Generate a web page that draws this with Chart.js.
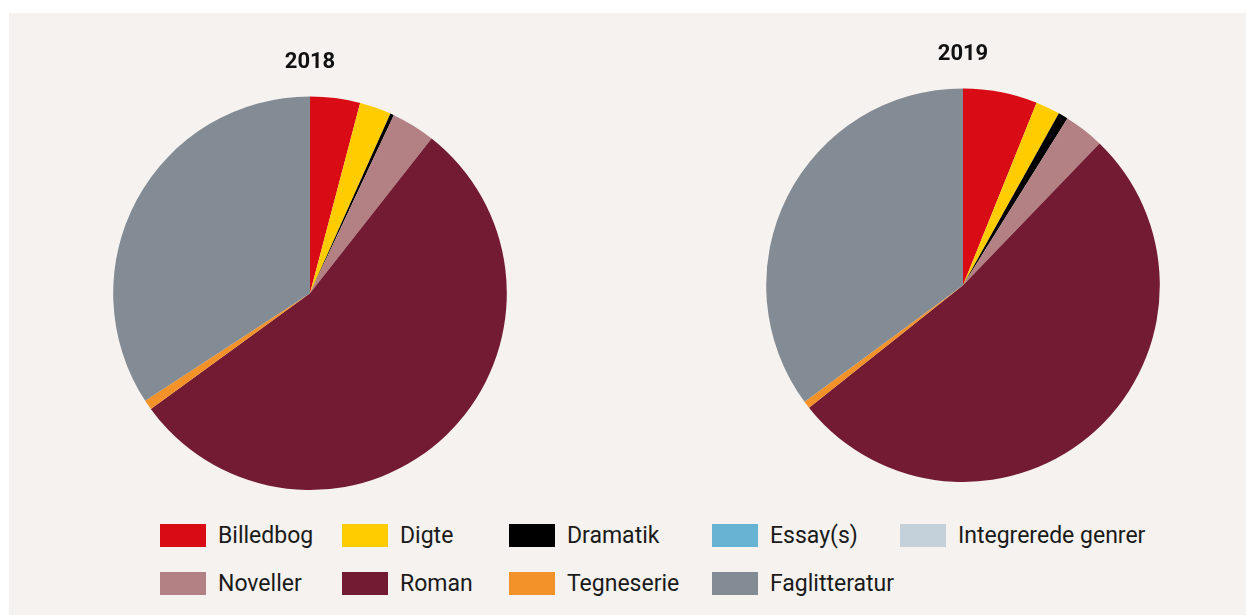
<!DOCTYPE html>
<html>
<head>
<meta charset="utf-8">
<script src="https://cdn.jsdelivr.net/npm/chart.js@4.4.1/dist/chart.umd.min.js"></script>
<style>
    html, body { margin: 0; padding: 0; background: #fff; width: 1246px; height: 615px; overflow: hidden; }
    #panel { position: absolute; left: 9px; top: 13px; width: 1237px; height: 602px; background: #f5f2ef; }
    canvas { position: absolute; }
    #c2018 { left: 100px; top: 40px; }
    #c2019 { left: 753px; top: 32px; }
    .lg { position: absolute; font-family: Roboto, sans-serif; font-size: 23px; color: #1a1a1a; white-space: nowrap; line-height: 23px; }
    .lg span { display: inline-block; width: 46px; height: 23px; vertical-align: top; margin-right: 12px; }
</style>
</head>
<body>
<div id="panel"></div>
<canvas id="c2018" width="420" height="450"></canvas>
<canvas id="c2019" width="420" height="450"></canvas>
<div id="legend"></div>
<script>
    // genres, in legend / slice order
    const genres = ['Billedbog','Digte','Dramatik','Essay(s)','Integrerede genrer','Noveller','Roman','Tegneserie','Faglitteratur'];
    const colors = ['#d90b14','#ffcc00','#000000','#67b3d4','#c5d1da','#b38184','#721b32','#f39229','#838b94'];
    // shares in percent
    const values2018 = [4.1, 2.6, 0.3, 0, 0, 3.6, 54.4, 0.8, 34.2];
    const values2019 = [6.1, 2.0, 0.8, 0, 0, 3.3, 52.1, 0.6, 35.1];

    // legend grid
    const legendCols = [160, 342, 509, 712, 900];
    const legendRows = [524, 572];

    function buildPie(id, title, data){
        return new Chart(document.getElementById(id), {
            type: 'pie',
            data: { labels: genres, datasets: [{ data, backgroundColor: colors, borderWidth: 0 }] },
            options: {
                responsive: false,
                animation: false,
                devicePixelRatio: 1,
                layout: { padding: 0 },
                plugins: {
                    legend: { display: false },
                    tooltip: { enabled: false },
                    title: {
                        display: true, text: title, color: '#111',
                        font: { family: 'Roboto', size: 22, weight: 'bold' },
                        padding: { top: 9, bottom: 21 }
                    }
                }
            }
        });
    }

    buildPie('c2018', '2018', values2018);
    buildPie('c2019', '2019', values2019);

    const lg = document.getElementById('legend');
    genres.forEach((g, i) => {
        const d = document.createElement('div');
        d.className = 'lg';
        d.style.left = legendCols[i % 5] + 'px';
        d.style.top = legendRows[Math.floor(i / 5)] + 'px';
        const sw = document.createElement('span');
        sw.style.background = colors[i];
        d.appendChild(sw);
        d.appendChild(document.createTextNode(g));
        lg.appendChild(d);
    });
</script>
</body>
</html>
